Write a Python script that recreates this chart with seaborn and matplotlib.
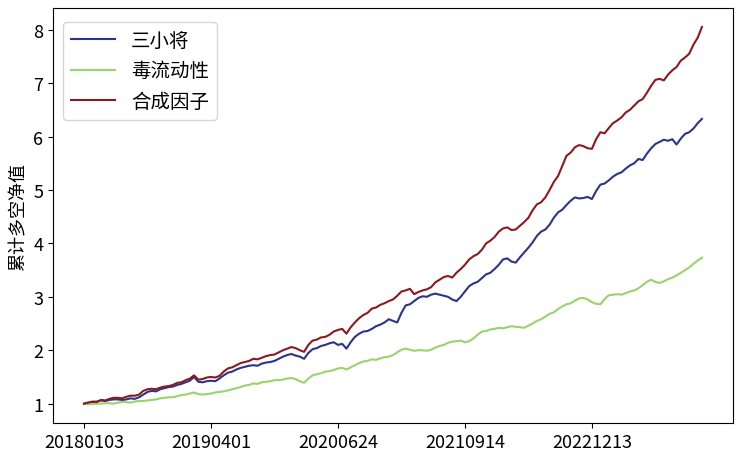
import pandas as pd
import matplotlib
matplotlib.use('Agg')
import matplotlib.pyplot as plt
import seaborn as sns

series_names = ['三小将', '毒流动性', '合成因子']
tick_dates = ['20180103', '20190401', '20200624', '20210914', '20221213']
tick_steps = [0, 300, 600, 900, 1200]

sanxiaojiang = [1.00, 1.02, 1.03, 1.04, 1.06, 1.05, 1.07, 1.08, 1.08, 1.07,
                1.08, 1.10, 1.09, 1.12, 1.17, 1.22, 1.24, 1.23, 1.27, 1.29,
                1.31, 1.32, 1.35, 1.37, 1.40, 1.43, 1.50, 1.41, 1.40, 1.42,
                1.43, 1.42, 1.47, 1.53, 1.58, 1.60, 1.64, 1.67, 1.69, 1.71,
                1.72, 1.71, 1.75, 1.77, 1.78, 1.80, 1.84, 1.88, 1.91, 1.93,
                1.90, 1.88, 1.84, 1.95, 2.02, 2.04, 2.08, 2.10, 2.13, 2.15,
                2.10, 2.12, 2.03, 2.15, 2.25, 2.31, 2.35, 2.36, 2.40, 2.45,
                2.48, 2.52, 2.58, 2.55, 2.52, 2.70, 2.84, 2.86, 2.92, 2.98,
                3.01, 3.00, 3.04, 3.06, 3.04, 3.02, 3.00, 2.95, 2.92, 3.00,
                3.10, 3.20, 3.25, 3.28, 3.35, 3.42, 3.45, 3.52, 3.60, 3.70,
                3.72, 3.66, 3.64, 3.74, 3.83, 3.92, 4.02, 4.14, 4.22, 4.26,
                4.35, 4.48, 4.58, 4.63, 4.72, 4.80, 4.86, 4.84, 4.85, 4.87,
                4.83, 4.98, 5.10, 5.12, 5.18, 5.25, 5.30, 5.33, 5.40, 5.46,
                5.50, 5.58, 5.56, 5.68, 5.78, 5.86, 5.90, 5.94, 5.92, 5.95,
                5.85, 5.96, 6.05, 6.08, 6.15, 6.25, 6.33]
du_liudongxing = [1.00, 0.99, 0.99, 1.00, 1.00, 1.01, 1.01, 1.00, 1.02, 1.03,
                  1.03, 1.02, 1.04, 1.05, 1.05, 1.06, 1.07, 1.08, 1.10, 1.11,
                  1.12, 1.12, 1.14, 1.16, 1.17, 1.19, 1.21, 1.18, 1.17, 1.18,
                  1.19, 1.21, 1.22, 1.23, 1.25, 1.27, 1.29, 1.31, 1.34, 1.35,
                  1.38, 1.37, 1.40, 1.41, 1.42, 1.44, 1.44, 1.45, 1.47, 1.48,
                  1.46, 1.42, 1.39, 1.47, 1.53, 1.55, 1.57, 1.60, 1.61, 1.63,
                  1.66, 1.67, 1.64, 1.68, 1.72, 1.76, 1.79, 1.80, 1.83, 1.82,
                  1.85, 1.87, 1.88, 1.91, 1.96, 2.01, 2.03, 2.01, 1.99, 2.00,
                  2.00, 1.99, 2.01, 2.05, 2.08, 2.10, 2.14, 2.16, 2.17, 2.18,
                  2.15, 2.17, 2.22, 2.29, 2.35, 2.36, 2.39, 2.40, 2.42, 2.41,
                  2.43, 2.45, 2.44, 2.43, 2.42, 2.46, 2.50, 2.55, 2.58, 2.63,
                  2.68, 2.71, 2.77, 2.82, 2.86, 2.88, 2.93, 2.97, 2.98, 2.95,
                  2.90, 2.87, 2.86, 2.96, 3.03, 3.04, 3.05, 3.04, 3.07, 3.10,
                  3.12, 3.16, 3.22, 3.28, 3.32, 3.28, 3.26, 3.29, 3.33, 3.36,
                  3.40, 3.45, 3.50, 3.55, 3.62, 3.68, 3.73]
hecheng = [1.00, 1.02, 1.04, 1.03, 1.07, 1.06, 1.09, 1.11, 1.11, 1.10,
           1.13, 1.15, 1.15, 1.17, 1.24, 1.27, 1.28, 1.27, 1.30, 1.32,
           1.33, 1.35, 1.39, 1.40, 1.44, 1.47, 1.53, 1.45, 1.46, 1.49,
           1.50, 1.49, 1.52, 1.60, 1.66, 1.68, 1.72, 1.76, 1.78, 1.80,
           1.84, 1.83, 1.86, 1.89, 1.91, 1.92, 1.96, 2.00, 2.03, 2.06,
           2.04, 2.00, 1.97, 2.10, 2.18, 2.20, 2.24, 2.25, 2.29, 2.35,
           2.38, 2.40, 2.31, 2.43, 2.52, 2.60, 2.66, 2.70, 2.78, 2.80,
           2.85, 2.88, 2.92, 2.95, 3.02, 3.10, 3.12, 3.15, 3.05, 3.09,
           3.12, 3.14, 3.18, 3.27, 3.32, 3.37, 3.39, 3.36, 3.45, 3.52,
           3.60, 3.70, 3.76, 3.80, 3.88, 4.00, 4.05, 4.12, 4.22, 4.28,
           4.30, 4.25, 4.26, 4.33, 4.40, 4.48, 4.62, 4.73, 4.77, 4.86,
           5.00, 5.15, 5.26, 5.45, 5.64, 5.70, 5.80, 5.84, 5.82, 5.78,
           5.77, 5.95, 6.08, 6.06, 6.16, 6.25, 6.30, 6.36, 6.45, 6.50,
           6.58, 6.66, 6.70, 6.82, 6.95, 7.06, 7.08, 7.05, 7.16, 7.24,
           7.30, 7.42, 7.48, 7.55, 7.72, 7.85, 8.05]
day_index = list(range(0, 10 * len(hecheng), 10))

colors = ['#2b348c', '#98d46c', '#8b1a1f']

df = pd.DataFrame({'day': day_index,
                   series_names[0]: sanxiaojiang,
                   series_names[1]: du_liudongxing,
                   series_names[2]: hecheng})

plt.rcParams['font.family'] = ['Noto Sans CJK SC', 'DejaVu Sans']
plt.rcParams['axes.unicode_minus'] = False

fig = plt.figure(figsize=(7.38, 4.56), dpi=100)
ax = fig.add_axes([0.072, 0.070, 0.921, 0.910])
for name, c in zip(series_names, colors):
    sns.lineplot(data=df, x='day', y=name, color=c, label=name, linewidth=1.5, ax=ax)

ax.set_xticks(tick_steps)
ax.set_xticklabels(tick_dates, fontsize=13)
ax.tick_params(axis='y', labelsize=13)
ax.set_xlabel('')
ax.set_ylabel('累计多空净值', fontsize=13)
ax.legend(loc='upper left', fontsize=14, handlelength=2.3,
          bbox_to_anchor=(0.0, 0.99))

fig.savefig('out.png', dpi=100)
